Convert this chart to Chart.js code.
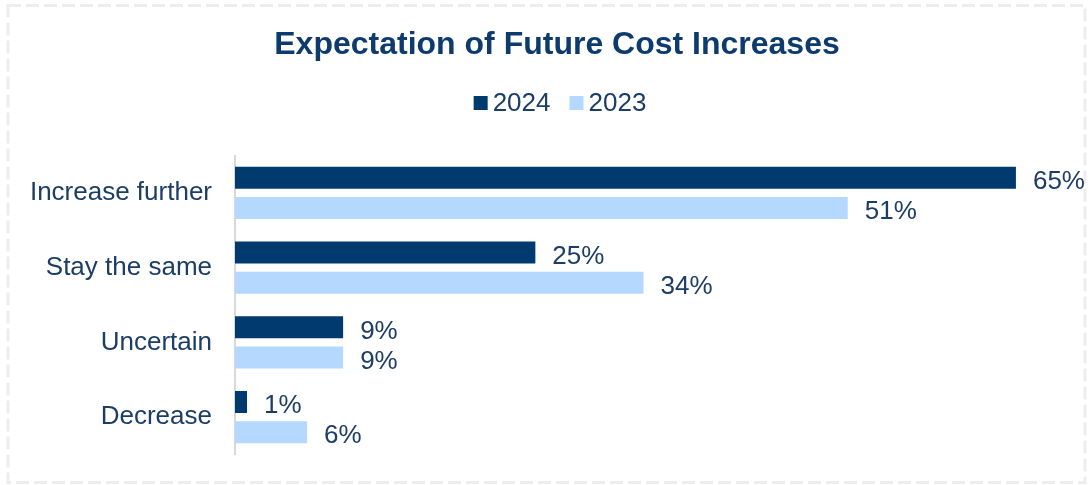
<!DOCTYPE html>
<html>
<head>
<meta charset="utf-8">
<script src="https://cdn.jsdelivr.net/npm/chart.js@4/dist/chart.umd.min.js"></script>
<style>
  html, body { margin: 0; padding: 0; background: #fff; }
  #wrap { position: relative; width: 1091px; height: 485px; }
</style>
</head>
<body>
<div id="wrap"><canvas id="chart" width="1091" height="485"></canvas></div>
<script>
const categories = ['Increase further', 'Stay the same', 'Uncertain', 'Decrease'];
const seriesNames = ['2024', '2023'];
const values2024 = [65, 25, 9, 1];
const values2023 = [51, 34, 9, 6];
const chartTitle = 'Expectation of Future Cost Increases';

const NAVY = '#003A6E';
const LIGHT = '#B4D8FF';
const TEXT = '#1B3D66';
const FONT = "'Liberation Sans', Arial, sans-serif";
const PAD_LEFT = 8;
const AXIS_LEFT = 235;
const CENTER_X = 557;

// value labels drawn just past the end of each bar
const barLabels = {
    id: 'barLabels',
    afterDatasetsDraw(chart) {
        const ctx = chart.ctx;
        ctx.save();
        ctx.font = `26px ${FONT}`;
        ctx.fillStyle = TEXT;
        ctx.textBaseline = 'middle';
        ctx.textAlign = 'left';
        chart.data.datasets.forEach((ds, i) => {
            chart.getDatasetMeta(i).data.forEach((bar, j) => {
                ctx.fillText(ds.data[j] + '%', bar.x + 17, bar.y + 4);
            });
        });
        ctx.restore();
    }
};

// title and compact legend (small squares sitting close to their text)
const header = {
    id: 'header',
    afterDraw(chart) {
        const ctx = chart.ctx;
        ctx.save();
        ctx.textBaseline = 'middle';
        ctx.textAlign = 'center';
        ctx.font = `bold 32px ${FONT}`;
        ctx.fillStyle = '#0D3B6E';
        ctx.fillText(chartTitle, CENTER_X, 45);

        const box = 14, gap = 5, itemGap = 19, y = 103;
        ctx.textAlign = 'left';
        ctx.font = `26px ${FONT}`;
        const items = chart.data.datasets.map((ds) => ({
            text: ds.label, color: ds.backgroundColor, w: ctx.measureText(ds.label).width
        }));
        const total = items.reduce((s, it) => s + box + gap + it.w, 0) + itemGap * (items.length - 1);
        let x = 560 - total / 2;
        items.forEach((it) => {
            ctx.fillStyle = it.color;
            ctx.fillRect(x, y - box / 2, box, box);
            x += box + gap;
            ctx.fillStyle = TEXT;
            ctx.fillText(it.text, x, y + 1);
            x += it.w + itemGap;
        });
        ctx.restore();
    }
};

// dashed frame around the whole chart
const frame = {
    id: 'frame',
    beforeDraw(chart) {
        const ctx = chart.ctx;
        ctx.save();
        ctx.strokeStyle = '#EDEDED';
        ctx.lineWidth = 3;
        ctx.setLineDash([13, 5]);
        ctx.strokeRect(8, 5.5, 1077, 477);
        ctx.restore();
    }
};

new Chart(document.getElementById('chart'), {
    type: 'bar',
    data: {
        labels: categories,
        datasets: [
            { label: seriesNames[0], data: values2024, backgroundColor: NAVY },
            { label: seriesNames[1], data: values2023, backgroundColor: LIGHT }
        ]
    },
    options: {
        indexAxis: 'y',
        responsive: false,
        animation: false,
        layout: { padding: { top: 155.5, left: PAD_LEFT, right: 15, bottom: 30.5 } },
        datasets: {
            bar: { barPercentage: 0.733, categoryPercentage: 0.803 }
        },
        scales: {
            x: { display: false, min: 0, max: 70 },
            y: {
                afterFit(scale) {
                    scale.width = AXIS_LEFT - PAD_LEFT;
                    // the tick padding is only meant as a horizontal gap
                    scale.paddingTop = 0;
                    scale.paddingBottom = 0;
                },
                grid: { display: false, drawTicks: false },
                border: { display: true, color: '#D9D9D9', width: 2 },
                ticks: { color: TEXT, font: { family: FONT, size: 26 }, padding: 23 }
            }
        },
        plugins: {
            title: { display: false },
            legend: { display: false },
            tooltip: { enabled: false }
        }
    },
    plugins: [frame, barLabels, header]
});
</script>
</body>
</html>
